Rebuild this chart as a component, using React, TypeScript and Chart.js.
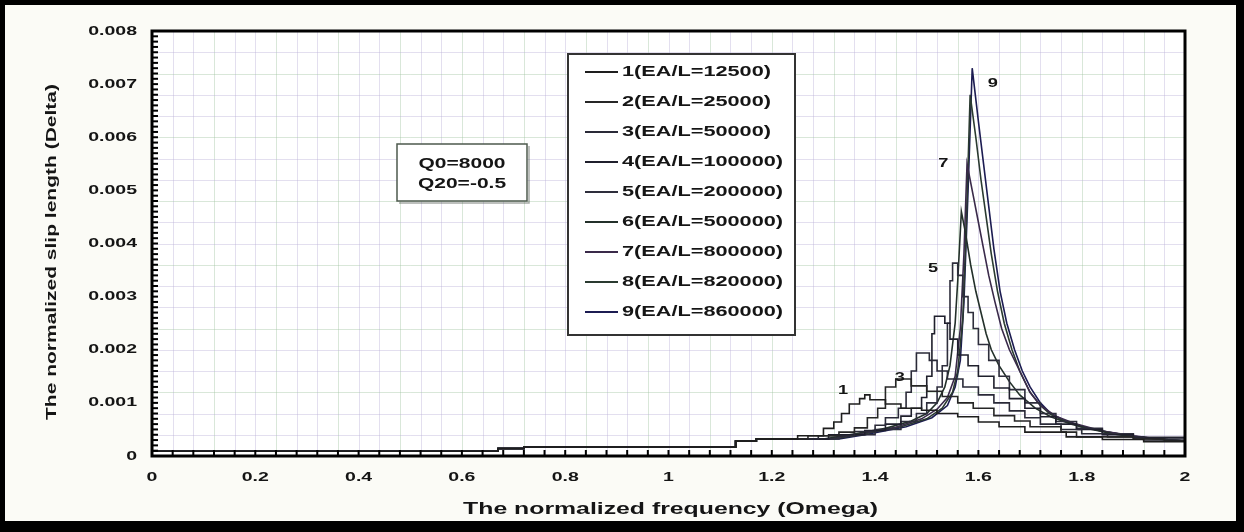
import React, { useEffect, useRef } from "react";
import { Chart, registerables } from "chart.js";
Chart.register(...registerables);

// ---------- data ----------
const seriesNames = [
  "1(EA/L=12500)",
  "2(EA/L=25000)",
  "3(EA/L=50000)",
  "4(EA/L=100000)",
  "5(EA/L=200000)",
  "6(EA/L=500000)",
  "7(EA/L=800000)",
  "8(EA/L=820000)",
  "9(EA/L=860000)",
];

// shared low-frequency part of every curve (flat runs with small jumps)
const baseX = [0, 0.67, 0.67, 0.72, 0.72, 1.13, 1.13, 1.17, 1.17];
const baseY = [0.00009, 0.00009, 0.00014, 0.00014, 0.00017, 0.00017, 0.00028, 0.00028, 0.00032];

const x1 = [1.25, 1.3, 1.32, 1.335, 1.35, 1.37, 1.38, 1.39, 1.42, 1.45, 1.49, 1.52, 1.56, 1.6, 1.64, 1.69, 1.77, 1.84, 1.92, 2.0];
const y1 = [0.00038, 0.00052, 0.00064, 0.0008, 0.00098, 0.00108, 0.00115, 0.00106, 0.00098, 0.0009, 0.00086, 0.0008, 0.00074, 0.00064, 0.00055, 0.00045, 0.00036, 0.00031, 0.00027, 0.00027];

const x2 = [1.27, 1.33, 1.36, 1.385, 1.405, 1.42, 1.44, 1.47, 1.5, 1.53, 1.56, 1.59, 1.63, 1.67, 1.7, 1.76, 1.79, 1.9, 1.96, 2.0];
const y2 = [0.00038, 0.00045, 0.00053, 0.00072, 0.0009, 0.0013, 0.00145, 0.00132, 0.00122, 0.00112, 0.001, 0.0009, 0.00076, 0.00066, 0.00055, 0.00045, 0.00036, 0.00032, 0.00028, 0.00028];

const x3 = [1.29, 1.36, 1.4, 1.42, 1.445, 1.46, 1.47, 1.48, 1.505, 1.52, 1.54, 1.57, 1.6, 1.63, 1.66, 1.69, 1.72, 1.76, 1.8, 1.85, 1.92, 2.0];
const y3 = [0.00038, 0.00046, 0.00058, 0.00072, 0.0009, 0.0012, 0.0016, 0.00194, 0.0018, 0.0016, 0.00145, 0.0013, 0.00115, 0.001, 0.00085, 0.00072, 0.0006, 0.0005, 0.00042, 0.00036, 0.0003, 0.0003];

const x4 = [1.31, 1.38, 1.42, 1.45, 1.47, 1.49, 1.5, 1.51, 1.515, 1.535, 1.545, 1.56, 1.58, 1.6, 1.63, 1.66, 1.69, 1.72, 1.75, 1.79, 1.84, 1.9, 2.0];
const y4 = [0.0004, 0.00048, 0.0006, 0.00075, 0.0009, 0.0011, 0.0015, 0.0023, 0.00263, 0.0025, 0.0022, 0.0019, 0.0017, 0.0015, 0.00128, 0.00108, 0.0009, 0.00074, 0.0006, 0.0005, 0.0004, 0.00034, 0.0003];

const x5 = [1.33, 1.4, 1.45, 1.48, 1.5, 1.52, 1.53, 1.54, 1.545, 1.55, 1.56, 1.57, 1.58, 1.59, 1.6, 1.62, 1.64, 1.66, 1.69, 1.72, 1.75, 1.79, 1.84, 1.9, 2.0];
const y5 = [0.0004, 0.0005, 0.00065, 0.0008, 0.001, 0.0013, 0.0017, 0.0025, 0.0033, 0.00363, 0.0034, 0.003, 0.0027, 0.0024, 0.0021, 0.0018, 0.0015, 0.00125, 0.001, 0.0008, 0.00065, 0.00052, 0.00042, 0.00035, 0.0003];

const x6 = [1.3, 1.35, 1.42, 1.47, 1.5, 1.52, 1.535, 1.545, 1.555, 1.56, 1.567, 1.575, 1.585, 1.595, 1.605, 1.615, 1.625, 1.64, 1.66, 1.68, 1.71, 1.74, 1.78, 1.82, 1.87, 1.93, 2.0];
const y6 = [0.00032, 0.0004, 0.00052, 0.00066, 0.0008, 0.001, 0.0013, 0.0017, 0.0025, 0.0033, 0.0046, 0.0042, 0.0036, 0.0031, 0.0027, 0.0023, 0.002, 0.0017, 0.0014, 0.00115, 0.0009, 0.00074, 0.0006, 0.0005, 0.0004, 0.00033, 0.00028];

const x7 = [1.31, 1.36, 1.44, 1.49, 1.52, 1.54, 1.555, 1.565, 1.572, 1.578, 1.59, 1.6, 1.61, 1.62, 1.632, 1.645, 1.66, 1.68, 1.7, 1.72, 1.75, 1.79, 1.84, 1.9, 1.95, 2.0];
const y7 = [0.00032, 0.0004, 0.00054, 0.0007, 0.00088, 0.0011, 0.0015, 0.0024, 0.0038, 0.0055, 0.0049, 0.0044, 0.0039, 0.0034, 0.0029, 0.0024, 0.002, 0.0016, 0.0012, 0.00095, 0.00075, 0.0006, 0.00047, 0.00038, 0.00032, 0.00028];

const x8 = [1.32, 1.37, 1.45, 1.5, 1.53, 1.55, 1.56, 1.57, 1.577, 1.584, 1.595, 1.605, 1.615, 1.625, 1.637, 1.65, 1.665, 1.68, 1.7, 1.72, 1.74, 1.77, 1.8, 1.85, 1.9, 1.95, 2.0];
const y8 = [0.00032, 0.0004, 0.00055, 0.0007, 0.0009, 0.0012, 0.0016, 0.0026, 0.0045, 0.0068, 0.006, 0.0052, 0.0045, 0.0038, 0.0031, 0.0025, 0.002, 0.0016, 0.0012, 0.00095, 0.00078, 0.00065, 0.00055, 0.00045, 0.00037, 0.00032, 0.00028];

const x9 = [1.33, 1.38, 1.46, 1.51, 1.54, 1.555, 1.565, 1.572, 1.58, 1.588, 1.6, 1.61, 1.62, 1.63, 1.642, 1.655, 1.67, 1.685, 1.7, 1.72, 1.74, 1.77, 1.8, 1.85, 1.9, 1.95, 2.0];
const y9 = [0.00032, 0.0004, 0.00055, 0.00072, 0.00095, 0.0013, 0.0018, 0.0029, 0.005, 0.0073, 0.0063, 0.0055, 0.0047, 0.0039, 0.0031, 0.0025, 0.002, 0.0016, 0.0013, 0.001, 0.0008, 0.00065, 0.00055, 0.00045, 0.00037, 0.00032, 0.00028];

const seriesX = [x1, x2, x3, x4, x5, x6, x7, x8, x9];
const seriesY = [y1, y2, y3, y4, y5, y6, y7, y8, y9];

const X_TICKS = [0, 0.2, 0.4, 0.6, 0.8, 1, 1.2, 1.4, 1.6, 1.8, 2];
const X_TICK_LABELS = ["0", "0.2", "0.4", "0.6", "0.8", "1", "1.2", "1.4", "1.6", "1.8", "2"];
const Y_TICKS = [0, 0.001, 0.002, 0.003, 0.004, 0.005, 0.006, 0.007, 0.008];
const Y_TICK_LABELS = ["0", "0.001", "0.002", "0.003", "0.004", "0.005", "0.006", "0.007", "0.008"];

const curveLabelText = ["1", "3", "5", "7", "9"];
const curveLabelX = [1.338, 1.448, 1.512, 1.532, 1.628];
const curveLabelY = [0.00124, 0.00147, 0.00354, 0.00551, 0.00702];

const noteLines = ["Q0=8000", "Q20=-0.5"];
const xTitle = "The normalized frequency (Omega)";
const yTitle = "The normalized slip length (Delta)";

// ---------- styles ----------
const COLORS = ["#1e1e1e", "#262626", "#2a2a38", "#1f1f2c", "#2e2e3c", "#23302a", "#3a2a4a", "#2a3a30", "#1c1c52"];
const STEPPED = [true, true, true, true, true, false, false, false, false];
const FONT = '"Liberation Sans", Arial, Helvetica, sans-serif';
const TEXT = "#151515";

function sText(ctx: CanvasRenderingContext2D, text: string, x: number, y: number, size: number, align: CanvasTextAlign, sx: number) {
  ctx.save();
  ctx.translate(x, y);
  ctx.scale(sx, 1);
  ctx.font = `bold ${size}px ${FONT}`;
  ctx.fillStyle = TEXT;
  ctx.textAlign = align;
  ctx.textBaseline = "middle";
  ctx.fillText(text, 0, 0);
  ctx.restore();
}

const decoPlugin = {
  id: "deco",
  beforeDraw(chart: any) {
    const { ctx, width, height, chartArea: a } = chart;
    ctx.save();
    ctx.fillStyle = "#fbfbf6";
    ctx.fillRect(0, 0, width, height);
    ctx.fillStyle = "#ffffff";
    ctx.fillRect(a.left, a.top, a.right - a.left, a.bottom - a.top);
    ctx.restore();
  },
  beforeDatasetsDraw(chart: any) {
    const { ctx, chartArea: a, scales } = chart;
    const xs = scales.x, ys = scales.y;
    ctx.save();
    ctx.lineWidth = 1;
    for (let i = 1; i < 50; i++) {
      const px = Math.round(xs.getPixelForValue(i * 0.04)) + 0.5;
      ctx.strokeStyle = i % 3 === 0 ? "rgba(160,195,160,0.4)" : "rgba(185,175,215,0.4)";
      ctx.beginPath();
      ctx.moveTo(px, a.top);
      ctx.lineTo(px, a.bottom);
      ctx.stroke();
    }
    for (let j = 1; j < 20; j++) {
      const py = Math.round(ys.getPixelForValue(j * 0.0004)) + 0.5;
      ctx.strokeStyle = j % 3 === 0 ? "rgba(160,195,160,0.4)" : "rgba(185,175,215,0.4)";
      ctx.beginPath();
      ctx.moveTo(a.left, py);
      ctx.lineTo(a.right, py);
      ctx.stroke();
    }
    ctx.restore();
  },
  afterDatasetsDraw(chart: any) {
    const { ctx, width, height, chartArea: a, scales } = chart;
    const xs = scales.x, ys = scales.y;
    ctx.save();
    // plot frame
    ctx.strokeStyle = "#000";
    ctx.lineWidth = 3;
    ctx.strokeRect(a.left, a.top, a.right - a.left, a.bottom - a.top);
    // tick marks (inward)
    ctx.lineWidth = 2;
    for (let i = 1; i < 50; i++) {
      const px = xs.getPixelForValue(i * 0.04);
      ctx.beginPath();
      ctx.moveTo(px, a.bottom);
      ctx.lineTo(px, a.bottom - 6);
      ctx.stroke();
    }
    for (let j = 1; j < 80; j++) {
      const py = ys.getPixelForValue(j * 0.0001);
      ctx.beginPath();
      ctx.moveTo(a.left, py);
      ctx.lineTo(a.left + 6, py);
      ctx.stroke();
    }
    // tick labels
    X_TICKS.forEach((v, i) => sText(ctx, X_TICK_LABELS[i], xs.getPixelForValue(v), a.bottom + 21, 13, "center", 1.5));
    Y_TICKS.forEach((v, i) => sText(ctx, Y_TICK_LABELS[i], a.left - 15, ys.getPixelForValue(v), 13, "right", 1.5));
    // axis titles
    sText(ctx, xTitle, (a.left + a.right) / 2 + 2, a.bottom + 54, 16, "center", 1.55);
    ctx.save();
    ctx.translate(52, 252);
    ctx.rotate(-Math.PI / 2);
    ctx.scale(1.4, 1);
    ctx.font = `bold 15px ${FONT}`;
    ctx.fillStyle = TEXT;
    ctx.textAlign = "center";
    ctx.textBaseline = "middle";
    ctx.fillText(yTitle, 0, 0);
    ctx.restore();
    // curve labels
    curveLabelText.forEach((t, i) =>
      sText(ctx, t, xs.getPixelForValue(curveLabelX[i]), ys.getPixelForValue(curveLabelY[i]), 13, "center", 1.4)
    );
    // parameter note box
    ctx.fillStyle = "#ffffff";
    ctx.fillRect(397, 144, 130, 57);
    ctx.strokeStyle = "#4d5a4d";
    ctx.lineWidth = 1.5;
    ctx.strokeRect(397, 144, 130, 57);
    ctx.strokeStyle = "rgba(80,90,80,0.5)";
    ctx.beginPath();
    ctx.moveTo(399, 203);
    ctx.lineTo(529, 203);
    ctx.lineTo(529, 146);
    ctx.stroke();
    sText(ctx, noteLines[0], 462, 164, 14, "center", 1.5);
    sText(ctx, noteLines[1], 462, 184, 14, "center", 1.5);
    // legend box
    ctx.fillStyle = "#ffffff";
    ctx.fillRect(568, 54, 227, 281);
    ctx.strokeStyle = "#333";
    ctx.lineWidth = 2;
    ctx.strokeRect(568, 54, 227, 281);
    seriesNames.forEach((name, i) => {
      const y = 72 + i * 30;
      ctx.strokeStyle = COLORS[i];
      ctx.lineWidth = 2;
      ctx.beginPath();
      ctx.moveTo(585, y);
      ctx.lineTo(618, y);
      ctx.stroke();
      sText(ctx, name, 622, y, 14, "left", 1.55);
    });
    // outer black border
    ctx.fillStyle = "#000";
    ctx.fillRect(0, 0, width, 5);
    ctx.fillRect(0, 0, 5, height);
    ctx.fillRect(width - 8, 0, 8, height);
    ctx.fillRect(0, height - 11, width, 11);
    ctx.restore();
  },
};

export default function App() {
  const ref = useRef<HTMLCanvasElement | null>(null);
  useEffect(() => {
    document.body.style.margin = "0";
    const canvas = ref.current;
    if (!canvas) return;
    const datasets = seriesNames.map((name, i) => {
      const xsAll = baseX.concat(seriesX[i]);
      const ysAll = baseY.concat(seriesY[i]);
      return {
        label: name,
        data: xsAll.map((x, k) => ({ x, y: ysAll[k] })),
        borderColor: COLORS[i],
        borderWidth: 1.6,
        pointRadius: 0,
        fill: false,
        stepped: STEPPED[i] as any,
      };
    });
    const chart = new Chart(canvas, {
      type: "line",
      data: { datasets },
      options: {
        animation: false,
        responsive: false,
        maintainAspectRatio: false,
        layout: { padding: { left: 0, right: 59, top: 31, bottom: 0 } },
        plugins: { legend: { display: false }, tooltip: { enabled: false } },
        elements: { point: { radius: 0 }, line: { tension: 0 } },
        scales: {
          x: {
            type: "linear",
            min: 0,
            max: 2,
            ticks: { display: false },
            grid: { display: false },
            border: { display: false },
            afterFit: (s: any) => { s.height = 76; },
          },
          y: {
            type: "linear",
            min: 0,
            max: 0.008,
            ticks: { display: false },
            grid: { display: false },
            border: { display: false },
            afterFit: (s: any) => { s.width = 152; },
          },
        },
      } as any,
      plugins: [decoPlugin],
    });
    return () => chart.destroy();
  }, []);
  return <canvas ref={ref} width={1244} height={532} style={{ display: "block" }} />;
}
